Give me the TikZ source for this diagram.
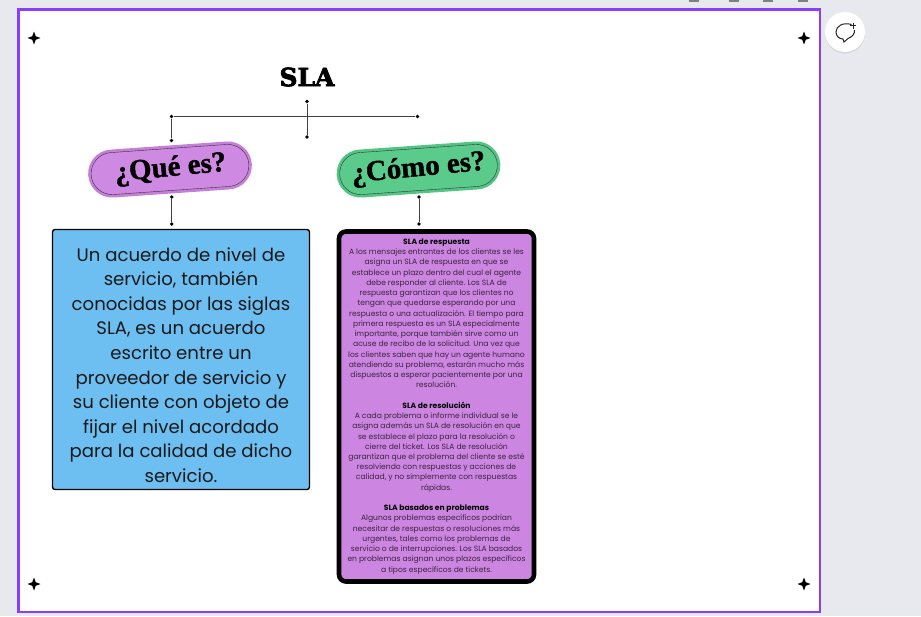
\documentclass[tikz,border=0pt]{standalone}
\usepackage{fontspec}
\setmainfont{Poppins}
\newfontfamily\headfont[FakeBold=3]{DejaVu Serif Bold}
\newfontfamily\pillfont[FakeBold=1.2]{Liberation Serif Bold}
\usetikzlibrary{shapes.misc,shapes.geometric,shadows}
\definecolor{pagegray}{HTML}{E8E9EE}
\definecolor{framepurple}{HTML}{8B3DFF}
\definecolor{pillpurple}{HTML}{CE8AE2}
\definecolor{rimpurple}{HTML}{C67FD8}
\definecolor{pillgreen}{HTML}{5BCB8B}
\definecolor{rimgreen}{HTML}{52C585}
\definecolor{boxblue}{HTML}{6DBFF2}
\definecolor{boxpurple}{HTML}{CC85E0}
\tikzset{
  dot/.style={circle,fill=black,inner sep=0pt,minimum size=3.8pt},
  link/.style={draw=black!75,line width=0.8pt},
  pill/.style={rounded rectangle,minimum width=#1,minimum height=48pt,rotate=4,inner sep=0pt},
  sparkle/.style={star,star points=4,star point ratio=2.6,fill=black,draw=none,minimum size=13pt,inner sep=0pt},
  pilltext/.style={font=\pillfont\fontsize{29}{29}\selectfont,rotate=5.5},
  smalltext/.style={align=center,font=\fontsize{7.6}{10.24}\selectfont,text=black!72!boxpurple},
  toolmark/.style={fill=black!50},
}
\begin{document}
\begin{tikzpicture}[x=1pt,y=-1pt]
    \useasboundingbox (0,0) rectangle (921,616);
    \fill[pagegray] (0,0) rectangle (921,616);
    %% next four are the clipped toolbar icons
    \foreach \px in {689,729,763,798}
        \fill[toolmark] (\px,0) rectangle ++(10,1.6);
    \draw[framepurple,line width=2.6pt,fill=white] (18.4,9.5) rectangle (820,612);
    %% next four are the corner marks
    \foreach \px/\py/\tagname in {34/38/sa,804/38/sb,34/584/sc,804/584/sd}
        \node[sparkle] (\tagname) at (\px,\py) {};
    %% comment button on the right
    \node[circle,fill=white,minimum size=40pt,drop shadow={opacity=0.18,shadow xshift=0pt,shadow yshift=-1.5pt}] (bubble) at (845,32) {};
    \draw[line width=1pt,black!85] (851.5,24.5) .. controls (843,22) and (836,26) .. (836,32) .. controls (836,36) and (839,39) .. (843,39) -- (844,42) -- (848,38.5) .. controls (852,37) and (855,34) .. (854.5,30);
    \draw[line width=1pt,black!85] (853,23) -- (853,28.5) (850.2,25.7) -- (855.8,25.7);
    %% title and the bracket under it
    \node[font=\headfont\fontsize{25}{25}\selectfont] (title) at (307,77) {SLA};
    \node[dot] (top) at (307,101.5) {};
    \node[dot] (bot) at (307,137) {};
    \node[dot] (barl) at (171.5,116.5) {};
    \node[dot] (barr) at (417.5,116.5) {};
    \node[dot] (legl) at (171.5,140.5) {};
    \draw[link] (top) -- (bot);
    \draw[link] (barl) -- (barr);
    \draw[link] (barl) -- (legl);
    %% the two pills
    \node[pill=164pt,fill=rimpurple] (queout) at (170,169.5) {};
    \node[pill=158pt,minimum height=42pt,fill=pillpurple,draw=black!80,line width=0.4pt] (que) at (170,169.5) {};
    \node[pilltext] at (170.5,169) {¿Qué es?};
    \node[pill=164pt,fill=rimgreen] (comoout) at (418.5,169.5) {};
    \node[pill=158pt,minimum height=42pt,fill=pillgreen,draw=black!80,line width=0.4pt] (como) at (418.5,169.5) {};
    \node[pilltext] at (418.5,169) {¿Cómo es?};
    %% links down to the boxes
    \node[dot] (qa) at (171.8,197) {};
    \node[dot] (qb) at (171.8,224) {};
    \node[dot] (ca) at (419,197) {};
    \node[dot] (cb) at (419,224) {};
    \draw[link] (qa) -- (qb);
    \draw[link] (ca) -- (cb);
    %% left box
    \node[draw=black,line width=1.4pt,fill=boxblue,rounded corners=2.5pt,minimum width=257pt,minimum height=260pt,inner sep=0pt] (que box) at (181,359.5) {};
    \node[align=center,font=\fontsize{18.1}{24.55}\selectfont,text=black!90] (que text) at (181,365) {Un acuerdo de nivel de\\ servicio, también\\ conocidas por las siglas\\ SLA, es un acuerdo\\ escrito entre un\\ proveedor de servicio y\\ su cliente con objeto de\\ fijar el nivel acordado\\ para la calidad de dicho\\ servicio.};
    %% right box
    \node[draw=black,line width=4.6pt,fill=boxpurple,rounded corners=7pt,minimum width=195pt,minimum height=350pt,inner sep=0pt] (como box) at (436.5,406.5) {};
    \node[smalltext,anchor=north] (como text) at (436.5,235.3) {\textbf{\textcolor{black}{SLA de respuesta}}\\
      A los mensajes entrantes de los clientes se les\\ asigna un SLA de respuesta en que se\\ establece un plazo dentro del cual el agente\\ debe responder al cliente. Los SLA de\\ respuesta garantizan que los clientes no\\ tengan que quedarse esperando por una\\ respuesta o una actualización. El tiempo para\\ primera respuesta es un SLA especialmente\\ importante, porque también sirve como un\\ acuse de recibo de la solicitud. Una vez que\\ los clientes saben que hay un agente humano\\ atendiendo su problema, estarán mucho más\\ dispuestos a esperar pacientemente por una\\ resolución.\\[10.24pt]
      \textbf{\textcolor{black}{SLA de resolución}}\\
      A cada problema o informe individual se le\\ asigna además un SLA de resolución en que\\ se establece el plazo para la resolución o\\ cierre del ticket. Los SLA de resolución\\ garantizan que el problema del cliente se esté\\ resolviendo con respuestas y acciones de\\ calidad, y no simplemente con respuestas\\ rápidas.\\[10.24pt]
      \textbf{\textcolor{black}{SLA basados en problemas}}\\
      Algunos problemas específicos podrían\\ necesitar de respuestas o resoluciones más\\ urgentes, tales como los problemas de\\ servicio o de interrupciones. Los SLA basados\\ en problemas asignan unos plazos específicos\\ a tipos específicos de tickets.};
\end{tikzpicture}
\end{document}
